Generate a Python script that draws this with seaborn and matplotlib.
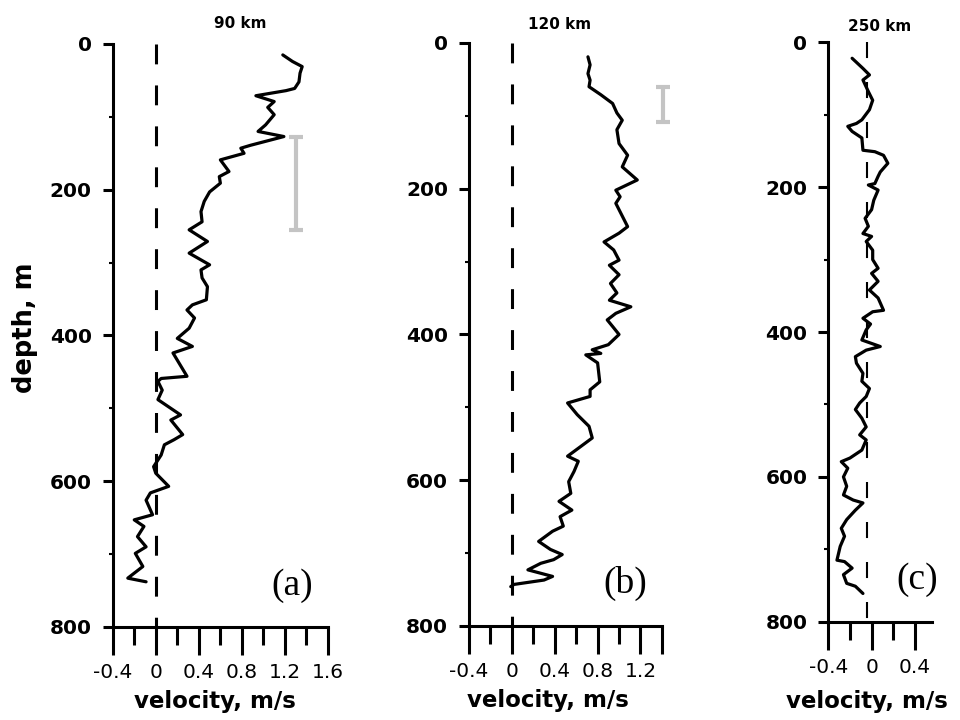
import matplotlib
matplotlib.use('Agg')
import matplotlib.pyplot as plt
import seaborn as sns

# Perfis de velocidade
depth_a = [15, 24, 31, 40, 52, 61, 64, 71, 79, 87,
           97, 111, 120, 127, 139, 143, 150, 159, 175, 182,
           191, 203, 216, 230, 244, 255, 271, 287, 303, 310,
           321, 333, 351, 358, 365, 376, 390, 404, 415, 424,
           456, 459, 463, 475, 488, 509, 516, 536, 543, 550,
           564, 580, 589, 607, 616, 626, 646, 653, 662, 676,
           690, 699, 717, 733, 738]
vel_a = [1.18, 1.27, 1.36, 1.34, 1.33, 1.29, 1.21, 0.93, 1.10, 1.04,
         1.10, 1.02, 0.95, 1.19, 0.88, 0.79, 0.82, 0.60, 0.68, 0.59,
         0.60, 0.50, 0.45, 0.42, 0.43, 0.31, 0.48, 0.31, 0.50, 0.42,
         0.43, 0.48, 0.47, 0.34, 0.29, 0.36, 0.31, 0.20, 0.34, 0.16,
         0.29, 0.05, 0.02, 0.06, 0.02, 0.23, 0.14, 0.25, 0.17, 0.08,
         0.05, -0.02, 0.00, 0.12, -0.05, -0.09, -0.03, -0.20, -0.11, -0.17,
         -0.09, -0.19, -0.12, -0.26, -0.09]

depth_b = [19, 30, 42, 51, 60, 71, 83, 96, 106, 119,
           138, 154, 170, 188, 202, 211, 220, 252, 261, 273,
           284, 298, 305, 318, 330, 343, 353, 362, 371, 380,
           389, 400, 414, 421, 426, 428, 439, 465, 476, 485,
           494, 510, 526, 542, 554, 567, 574, 588, 602, 618,
           629, 641, 650, 663, 670, 684, 695, 702, 709, 714,
           723, 732, 737, 743, 746]
vel_b = [0.71, 0.73, 0.71, 0.73, 0.72, 0.83, 0.94, 0.98, 1.03, 0.98,
         1.00, 1.08, 1.03, 1.17, 0.97, 1.01, 0.97, 1.08, 1.00, 0.86,
         0.95, 1.00, 0.91, 1.00, 0.92, 0.98, 0.91, 1.11, 0.97, 0.89,
         0.94, 1.00, 0.90, 0.75, 0.83, 0.69, 0.80, 0.82, 0.73, 0.73,
         0.52, 0.61, 0.72, 0.75, 0.64, 0.52, 0.62, 0.58, 0.53, 0.55,
         0.44, 0.56, 0.45, 0.48, 0.38, 0.25, 0.36, 0.47, 0.39, 0.27,
         0.15, 0.38, 0.30, 0.02, -0.01]

depth_c = [22, 36, 45, 52, 68, 80, 93, 107, 112, 116,
           123, 132, 149, 151, 156, 167, 179, 185, 195, 197,
           204, 218, 231, 243, 254, 264, 268, 275, 287, 300,
           312, 319, 330, 342, 353, 370, 372, 381, 389, 397,
           411, 420, 425, 434, 443, 457, 468, 478, 489, 498,
           507, 519, 531, 542, 549, 563, 574, 579, 588, 600,
           613, 625, 632, 636, 646, 659, 671, 682, 696, 715,
           717, 726, 735, 747, 751, 761]
vel_c = [-0.18, -0.08, -0.02, -0.08, -0.03, 0.01, -0.02, -0.09, -0.14, -0.22,
         -0.18, -0.09, -0.08, 0.03, 0.11, 0.15, 0.08, 0.06, 0.03, -0.03,
         0.06, 0.02, 0.00, -0.06, -0.03, -0.08, 0.00, -0.05, 0.01, 0.01,
         0.06, 0.00, 0.06, -0.02, 0.06, 0.11, 0.01, -0.08, -0.01, -0.05,
         -0.09, 0.08, -0.05, -0.15, -0.14, -0.08, -0.09, -0.02, -0.05, -0.11,
         -0.15, -0.09, -0.05, -0.11, -0.05, -0.09, -0.20, -0.28, -0.22, -0.26,
         -0.23, -0.26, -0.17, -0.08, -0.15, -0.23, -0.28, -0.25, -0.29, -0.32,
         -0.25, -0.18, -0.26, -0.23, -0.15, -0.08]

titles = ['90 km', '120 km', '250 km']
panel_labels = ['(a)', '(b)', '(c)']
zero_x = [0.0, 0.0, -0.04]

# barras cinzas (escala)
bar_x = [1.30, 1.41]
bar_top = [128, 60]
bar_bottom = [255, 108]

sns.set_style('ticks')
plt.rcParams['font.family'] = ['DejaVu Sans']
plt.rcParams.update({'text.color': 'black', 'axes.labelcolor': 'black',
                     'xtick.color': 'black', 'ytick.color': 'black',
                     'axes.edgecolor': 'black'})

fig = plt.figure(figsize=(9.6, 7.2), dpi=100)

rects = [[0.1174, 0.1292, 0.2243, 0.8097],
         [0.4885, 0.1306, 0.2010, 0.8097],
         [0.8628, 0.1365, 0.1083, 0.8047]]
xlims = [(-0.4, 1.6), (-0.4, 1.4), (-0.4, 0.56)]
major_ticks = [[-0.4, 0, 0.4, 0.8, 1.2, 1.6],
               [-0.4, 0, 0.4, 0.8, 1.2, 1.4],
               [-0.4, 0, 0.4]]
major_labels = [['-0.4', '0', '0.4', '0.8', '1.2', '1.6'],
                ['-0.4', '0', '0.4', '0.8', '1.2', ''],
                ['-0.4', '0', '0.4']]
minor_ticks = [[-0.2, 0.2, 0.6, 1.0, 1.4],
               [-0.2, 0.2, 0.6, 1.0],
               [-0.2, 0.2]]
title_pos = [(0.591, 1.036), (0.47, 1.031), (0.497, 1.028)]
label_pos = [(1.27, 744), (1.06, 741), (0.42, 742)]
xlabel_pos = [(0.477, -0.108), (0.41, -0.108), (0.372, -0.118)]
zero_lw = [2.2, 2.2, 1.5]
zero_dash = [(6.5, 6.9), (6.5, 6.9), (7.7, 11.5)]

profiles = [(vel_a, depth_a), (vel_b, depth_b), (vel_c, depth_c)]

for i in range(3):
    ax = fig.add_axes(rects[i])
    vel, dep = profiles[i]

    # linha de velocidade zero
    ax.plot([zero_x[i], zero_x[i]], [0, 800], color='black', lw=zero_lw[i],
            linestyle=(0, zero_dash[i]))

    sns.lineplot(x=vel, y=dep, sort=False, estimator=None, color='black',
                 linewidth=2.3, ax=ax)

    if i < 2:
        eb = ax.errorbar(bar_x[i], (bar_top[i] + bar_bottom[i]) / 2,
                         yerr=(bar_bottom[i] - bar_top[i]) / 2, fmt='none',
                         ecolor='#c4c4c4', elinewidth=3, capsize=5, capthick=3)
        for art in eb.get_children():
            art.set_clip_on(False)

    ax.set_xlim(*xlims[i])
    ax.set_ylim(800, 0)
    ax.set_xticks(major_ticks[i])
    ax.set_xticklabels(major_labels[i])
    ax.set_xticks(minor_ticks[i], minor=True)
    ax.set_yticks([0, 200, 400, 600, 800])
    ax.set_yticks([100, 300, 500, 700], minor=True)

    sns.despine(ax=ax)
    for side in ['left', 'bottom']:
        ax.spines[side].set_linewidth(2.2)

    ax.tick_params(axis='x', which='major', direction='out', length=20, width=2.2,
                   labelsize=14.5, pad=6)
    ax.tick_params(axis='x', which='minor', direction='out', length=13, width=2.2)
    ax.tick_params(axis='y', which='major', direction='out', length=7, width=2.2,
                   labelsize=14.5, pad=8)
    ax.tick_params(axis='y', which='minor', direction='out', length=3, width=1.5)
    for lbl in ax.get_yticklabels():
        lbl.set_fontweight('bold')

    ax.set_xlabel('velocity, m/s', fontsize=16.5, fontweight='bold')
    ax.xaxis.set_label_coords(*xlabel_pos[i])
    if i == 0:
        ax.set_ylabel('depth, m', fontsize=18.5, fontweight='bold')
        ax.yaxis.set_label_coords(-0.345, 0.513)
    else:
        ax.set_ylabel('')

    ax.text(title_pos[i][0], title_pos[i][1], titles[i], transform=ax.transAxes,
            ha='center', va='center', fontsize=11, fontweight='bold')
    ax.text(label_pos[i][0], label_pos[i][1], panel_labels[i],
            family=['Liberation Serif', 'DejaVu Serif'], fontsize=27,
            ha='center', va='center')

fig.savefig('out.png', dpi=100)
